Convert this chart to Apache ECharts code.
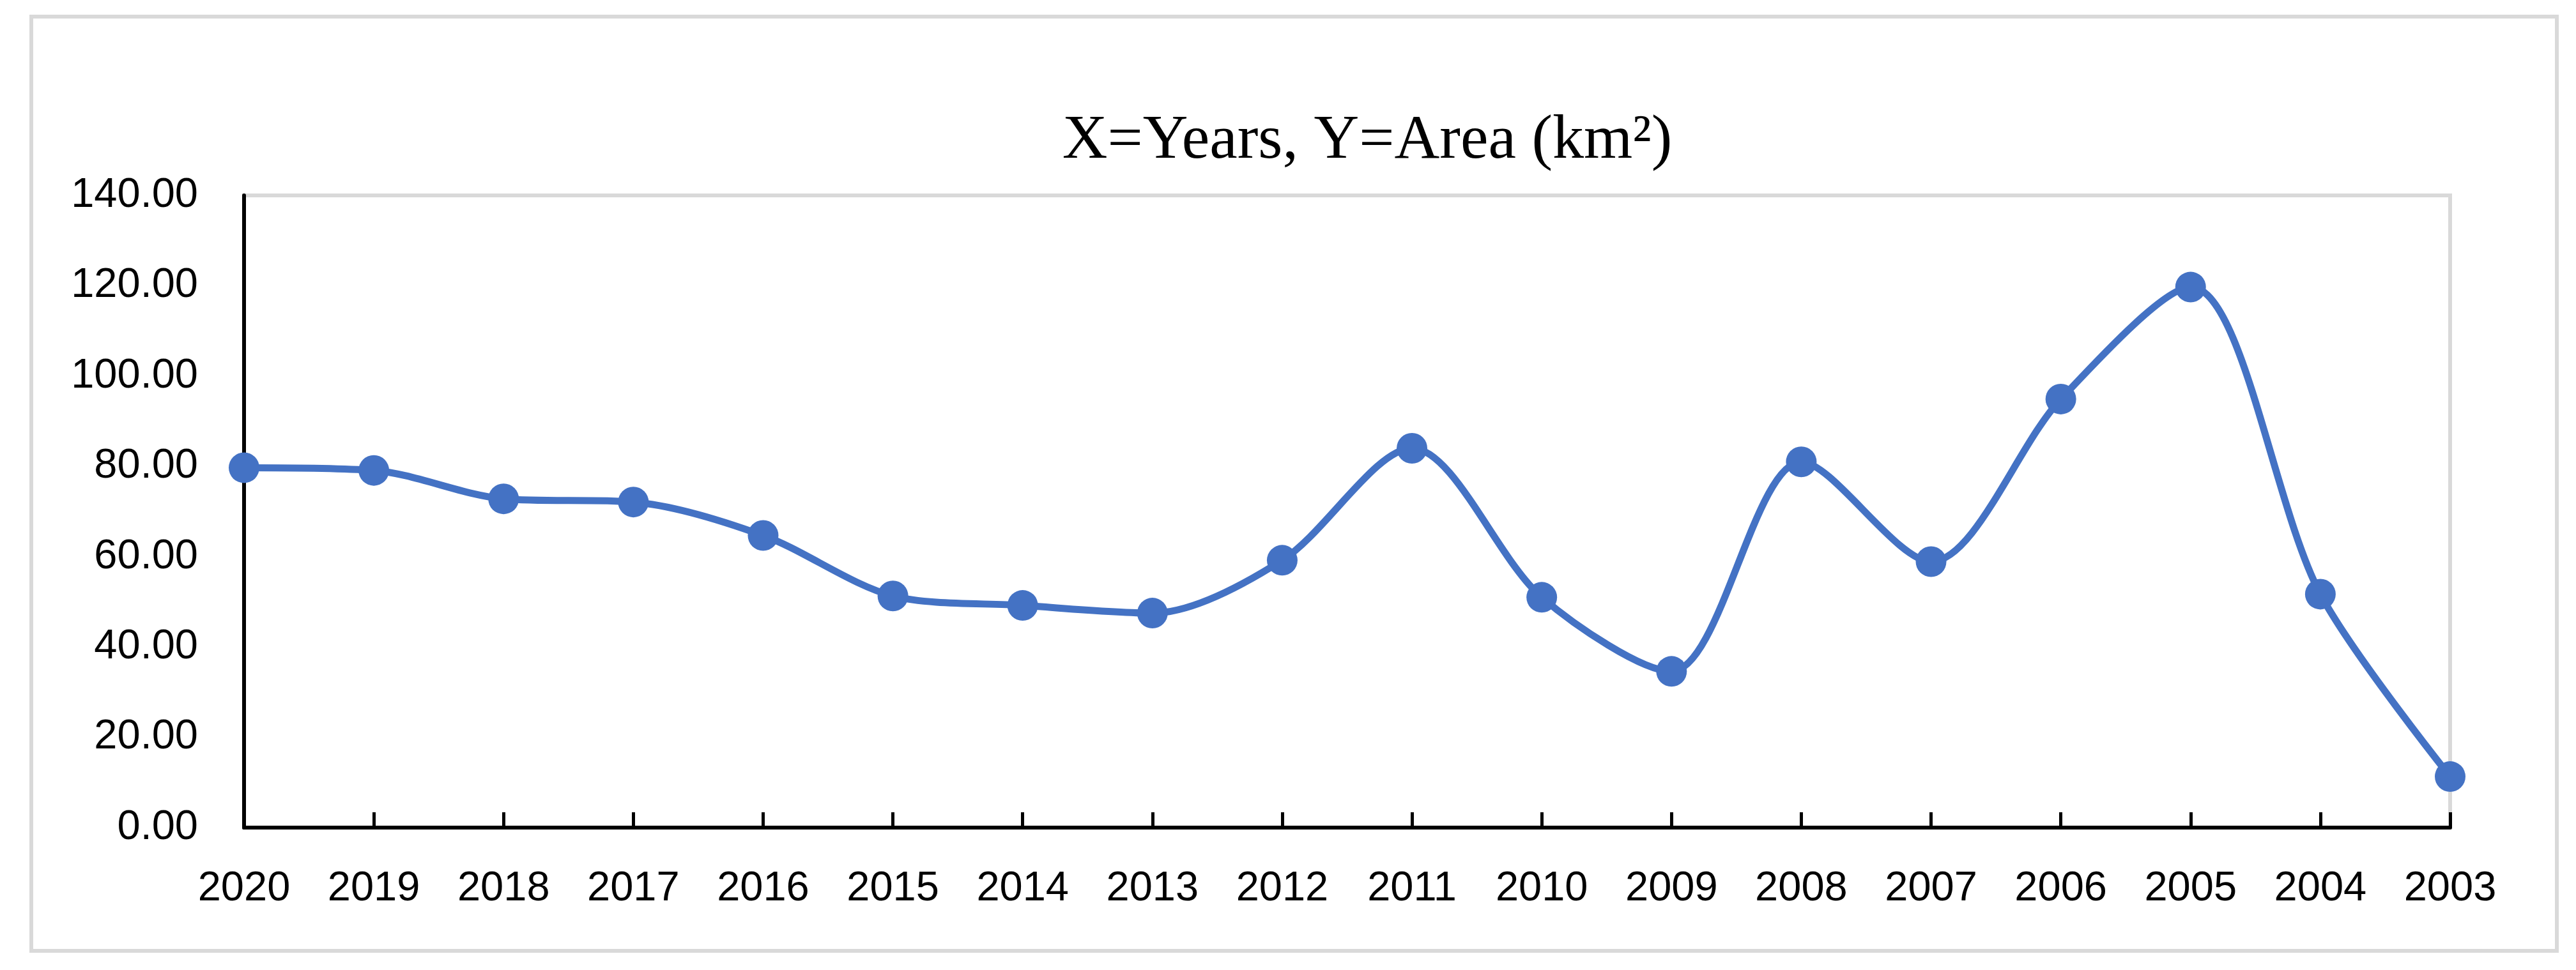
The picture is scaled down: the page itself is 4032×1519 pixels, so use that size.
<!DOCTYPE html>
<html>
<head>
<meta charset="utf-8">
<script src="https://cdn.jsdelivr.net/npm/echarts@6/dist/echarts.min.js"></script>
<style>
html,body{margin:0;padding:0;background:#fff;}
#chart{width:4032px;height:1519px;}
</style>
</head>
<body>
<div id="chart"></div>
<script>
const titleText = 'X=Years, Y=Area (km²)';
const years = ['2020','2019','2018','2017','2016','2015','2014','2013','2012','2011','2010','2009','2008','2007','2006','2005','2004','2003'];
const areaValues = [79.7, 79.1, 72.8, 72.1, 64.7, 51.3, 49.2, 47.5, 59.2, 84.0, 51.0, 34.6, 81.0, 58.9, 94.9, 119.7, 51.7, 11.3];
const yMin = 0, yMax = 140, yStep = 20;

const chart = echarts.init(document.getElementById('chart'), null, {renderer: 'canvas'});
chart.setOption({
  backgroundColor: '#ffffff',
  animation: false,
  title: {
    text: titleText,
    left: 2140,
    top: 172,
    padding: 0,
    textAlign: 'center',
    textStyle: {
      fontFamily: 'Liberation Serif',
      fontSize: 98,
      fontWeight: 'normal',
      color: '#000000',
      lineHeight: 98
    }
  },
  graphic: [{
    type: 'rect',
    shape: {x: 49, y: 26, width: 3953, height: 1463},
    style: {fill: null, stroke: '#d9d9d9', lineWidth: 6},
    silent: true,
    z: -1
  }],
  grid: {
    left: 382, right: 197, top: 306, bottom: 223,
    show: true,
    borderColor: '#d9d9d9',
    borderWidth: 6,
    backgroundColor: 'transparent'
  },
  xAxis: {
    type: 'category',
    data: years,
    boundaryGap: false,
    axisLine: {show: true, lineStyle: {color: '#000000', width: 6}},
    axisTick: {show: true, inside: true, length: 24, lineStyle: {color: '#000000', width: 5}},
    axisLabel: {
      show: true, interval: 0, margin: 64,
      fontFamily: 'Liberation Sans', fontSize: 65, color: '#000000'
    },
    splitLine: {show: false}
  },
  yAxis: {
    type: 'value',
    min: yMin, max: yMax, interval: yStep,
    axisLine: {show: true, lineStyle: {color: '#000000', width: 6}},
    axisTick: {show: false},
    axisLabel: {
      margin: 72,
      fontFamily: 'Liberation Sans', fontSize: 65, color: '#000000',
      formatter: v => v.toFixed(2)
    },
    splitLine: {show: false}
  },
  series: [{
    type: 'line',
    data: areaValues,
    smooth: 0.3,
    symbol: 'circle',
    symbolSize: 48,
    showSymbol: true,
    lineStyle: {color: '#4472C4', width: 11},
    itemStyle: {color: '#4472C4'},
    z: 5
  }]
});
</script>
</body>
</html>
